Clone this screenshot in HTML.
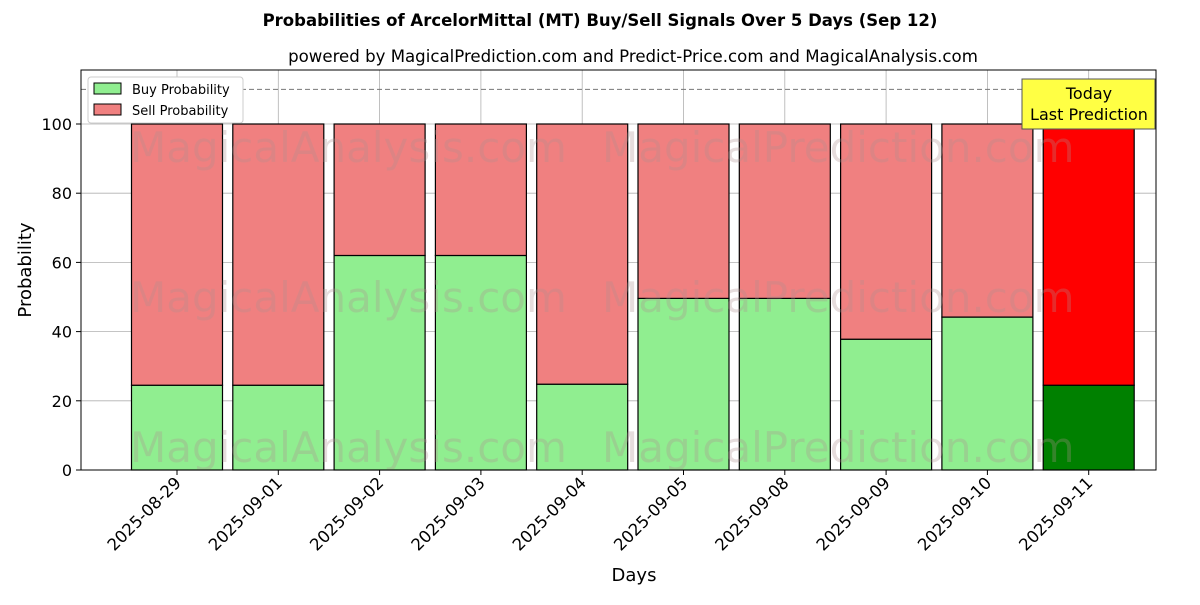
<!DOCTYPE html>
<html><head><meta charset="utf-8"><style>
body{margin:0;background:#fff;font-family:"Liberation Sans","DejaVu Sans",sans-serif}
</style></head><body>
<svg id="chart" width="1200" height="600" xmlns="http://www.w3.org/2000/svg" font-family="DejaVu Sans, Liberation Sans, sans-serif">
<text x="600" y="26" text-anchor="middle" font-size="16.5" font-weight="bold">Probabilities of ArcelorMittal (MT) Buy/Sell Signals Over 5 Days (Sep 12)</text>
<text x="633" y="62" text-anchor="middle" font-size="16.6">powered by MagicalPrediction.com and Predict-Price.com and MagicalAnalysis.com</text>
<g id="grid"></g>
<g id="marks"></g>
<g font-size="42" fill="#b09090" opacity="0.3">
<text x="130" y="162">MagicalAnalysis.com</text><text x="602" y="162">MagicalPrediction.com</text>
<text x="130" y="312">MagicalAnalysis.com</text><text x="602" y="312">MagicalPrediction.com</text>
<text x="130" y="462">MagicalAnalysis.com</text><text x="602" y="462">MagicalPrediction.com</text>
</g>
<line x1="81" x2="1156" y1="89.4" y2="89.4" stroke="#777" stroke-dasharray="5,3"/>
<rect x="81" y="70" width="1075" height="400" fill="none" stroke="#000"/>
<g id="axes"></g>
<text x="634" y="581" text-anchor="middle" font-size="18">Days</text>
<text transform="translate(31,270) rotate(-90)" text-anchor="middle" font-size="18">Probability</text>
<g>
<rect x="88" y="77" width="155" height="46" fill="#fff" stroke="#ccc" rx="3"/>
<rect x="94" y="83" width="27" height="11" fill="#90ee90" stroke="#000"/>
<text x="132" y="94" font-size="13">Buy Probability</text>
<rect x="94" y="104" width="27" height="11" fill="#f08080" stroke="#000"/>
<text x="132" y="115" font-size="13">Sell Probability</text>
</g>
<g>
<rect x="1022" y="79" width="133" height="50" fill="#ffff44" stroke="#555"/>
<text x="1089" y="99" text-anchor="middle" font-size="16">Today</text>
<text x="1089" y="120" text-anchor="middle" font-size="16">Last Prediction</text>
</g>
</svg>
<script>
const categories=["2025-08-29","2025-09-01","2025-09-02","2025-09-03","2025-09-04","2025-09-05","2025-09-08","2025-09-09","2025-09-10","2025-09-11"];
const buyValues=[24.5,24.5,62,62,24.8,49.6,49.6,37.8,44.2,24.5];
const sellValues=[75.5,75.5,38,38,75.2,50.4,50.4,62.2,55.8,75.5];
const yTicks=[0,20,40,60,80,100];
const NS="http://www.w3.org/2000/svg";
const x=i=>177+101.3*i, y=v=>470-3.46*v, bw=91;
function mk(t,a,p){const e=document.createElementNS(NS,t);for(const k in a)e.setAttribute(k,a[k]);p.appendChild(e);return e;}
const grid=document.getElementById('grid'),marks=document.getElementById('marks'),axes=document.getElementById('axes');
yTicks.forEach(v=>{
 const g=mk('line',{x1:81,x2:1156,y1:y(v),y2:y(v),stroke:'#b0b0b0','stroke-width':0.8},grid);
 
 
 mk('line',{x1:76,x2:81,y1:y(v),y2:y(v),stroke:'#000'},axes);
 const t=mk('text',{x:72,y:y(v)+6,'text-anchor':'end','font-size':16},axes);t.textContent=v;
 
 
});
categories.forEach((c,i)=>{
 const g=mk('line',{x1:x(i),x2:x(i),y1:70,y2:470,stroke:'#b0b0b0','stroke-width':0.8},grid);
 
 
 const last=i===categories.length-1;
 const b=mk('rect',{x:x(i)-bw/2,y:y(buyValues[i]),width:bw,height:y(0)-y(buyValues[i]),fill:last?'#008000':'#90ee90',stroke:'#000','stroke-width':1.2},marks);
 
 
 const s=mk('rect',{x:x(i)-bw/2,y:y(buyValues[i]+sellValues[i]),width:bw,height:y(buyValues[i])-y(buyValues[i]+sellValues[i]),fill:last?'#ff0000':'#f08080',stroke:'#000','stroke-width':1.2},marks);
 
 
 mk('line',{x1:x(i),x2:x(i),y1:470,y2:475,stroke:'#000'},axes);
 const t=mk('text',{transform:`translate(${x(i)+5},${484}) rotate(-45)`,'text-anchor':'end','font-size':16.5},axes);t.textContent=c;
 
 
});
</script>
</body></html>
